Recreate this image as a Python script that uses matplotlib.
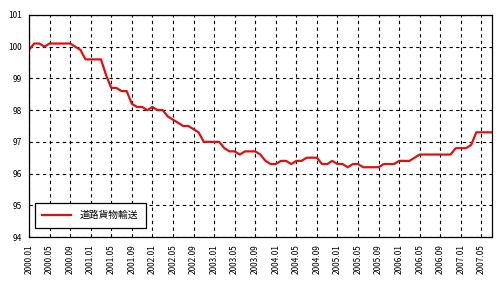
import matplotlib.pyplot as plt
import numpy as np

plt.rcParams["font.family"] = ["Noto Sans CJK JP", "DejaVu Sans"]

# monthly index values, 2000.01 - 2007.07
months = [f"{2000 + i // 12}.{i % 12 + 1:02d}" for i in range(91)]
values = [
    99.9, 100.1, 100.1, 100.0, 100.1, 100.1, 100.1, 100.1, 100.1, 100.0,
    99.9, 99.6, 99.6, 99.6, 99.6, 99.1, 98.7, 98.7, 98.6, 98.6,
    98.2, 98.1, 98.1, 98.0, 98.1, 98.0, 98.0, 97.8, 97.7, 97.6,
    97.5, 97.5, 97.4, 97.3, 97.0, 97.0, 97.0, 97.0, 96.8, 96.7,
    96.7, 96.6, 96.7, 96.7, 96.7, 96.6, 96.4, 96.3, 96.3, 96.4,
    96.4, 96.3, 96.4, 96.4, 96.5, 96.5, 96.5, 96.3, 96.3, 96.4,
    96.3, 96.3, 96.2, 96.3, 96.3, 96.2, 96.2, 96.2, 96.2, 96.3,
    96.3, 96.3, 96.4, 96.4, 96.4, 96.5, 96.6, 96.6, 96.6, 96.6,
    96.6, 96.6, 96.6, 96.8, 96.8, 96.8, 96.9, 97.3, 97.3, 97.3,
    97.3,
]
series_name = "道路貨物輸送"

fig = plt.figure(figsize=(5.0, 2.88), dpi=100)
ax = fig.add_axes([0.058, 0.177, 0.9254, 0.771])

x = np.arange(len(values))
ax.plot(x, values, color="#e01010", linewidth=1.6, label=series_name)

ax.set_xlim(0, len(values) - 1)
ax.set_ylim(94, 101)
ax.set_yticks(np.arange(94, 102, 1))
ax.set_yticklabels([str(v) for v in range(94, 102)], fontsize=6)

tick_pos = x[::4]
ax.set_xticks(tick_pos)
ax.set_xticklabels([months[i] for i in tick_pos], rotation=90, fontsize=6)

ax.grid(True, color="black", linestyle=(0, (3, 3)), linewidth=0.8)
ax.tick_params(length=0, pad=5)
for s in ax.spines.values():
    s.set_color("black")
    s.set_linewidth(0.9)

leg = ax.legend(loc="lower left", bbox_to_anchor=(0.012, 0.04), fontsize=7,
                frameon=True, fancybox=False, edgecolor="black",
                borderpad=0.8, handlelength=3.0, borderaxespad=0)
leg.get_frame().set_linewidth(0.9)
leg.get_frame().set_alpha(1)

fig.savefig("out.png", dpi=100)
